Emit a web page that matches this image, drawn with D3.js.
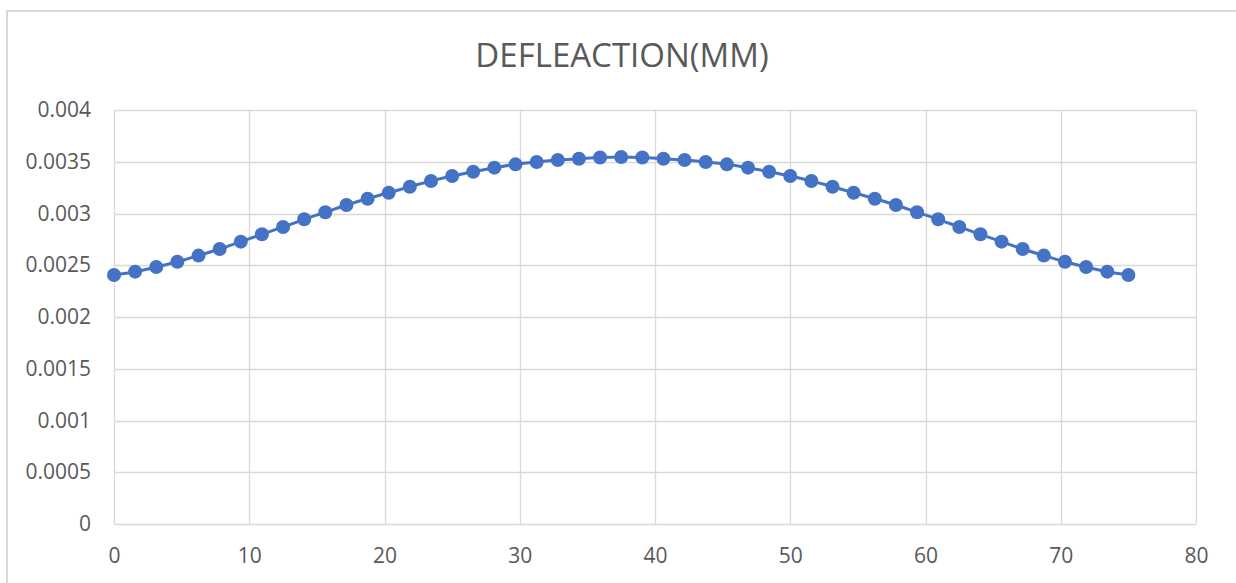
<!DOCTYPE html>
<html>
<head>
<meta charset="utf-8">
<script src="https://cdn.jsdelivr.net/npm/d3@7"></script>
<style>
  body { margin: 0; background: #fff; }
  text { font-family: "Open Sans", sans-serif; fill: #595959; }
</style>
</head>
<body>
<div id="chart-area"></div>
<script>
// DATA
var title = "DEFLEACTION(MM)";
var xValues = [0, 1.5625, 3.125, 4.6875, 6.25, 7.8125, 9.375, 10.9375, 12.5, 14.0625,
    15.625, 17.1875, 18.75, 20.3125, 21.875, 23.4375, 25, 26.5625, 28.125, 29.6875,
    31.25, 32.8125, 34.375, 35.9375, 37.5, 39.0625, 40.625, 42.1875, 43.75, 45.3125,
    46.875, 48.4375, 50, 51.5625, 53.125, 54.6875, 56.25, 57.8125, 59.375, 60.9375,
    62.5, 64.0625, 65.625, 67.1875, 68.75, 70.3125, 71.875, 73.4375, 75];
var deflection = [0.002406, 0.002438, 0.002483, 0.002534, 0.002593, 0.002657, 0.002728,
    0.002799, 0.002870, 0.002944, 0.003012, 0.003082, 0.003143, 0.003201, 0.003259,
    0.003314, 0.003362, 0.003404, 0.003443, 0.003475, 0.003498, 0.003517, 0.003529,
    0.003541, 0.003546, 0.003541, 0.003529, 0.003517, 0.003498, 0.003475, 0.003443,
    0.003404, 0.003362, 0.003314, 0.003259, 0.003201, 0.003143, 0.003082, 0.003012,
    0.002944, 0.002870, 0.002799, 0.002728, 0.002657, 0.002593, 0.002534, 0.002483,
    0.002438, 0.002406];
var xTicks = [0, 10, 20, 30, 40, 50, 60, 70, 80];
var yTicks = [0, 0.0005, 0.001, 0.0015, 0.002, 0.0025, 0.003, 0.0035, 0.004];

// GRAPHIC'S SIZE
var W = 1236, H = 583;
var margin = { top: 110, right: 40, bottom: 59, left: 114 };
var width = W - margin.left - margin.right;
var height = H - margin.top - margin.bottom;

var svg = d3.select("#chart-area")
    .append("svg")
    .attr("width", W)
    .attr("height", H);

// chart frame
svg.append("rect")
    .attr("x", 7).attr("y", 11)
    .attr("width", W + 20).attr("height", H + 20)
    .attr("fill", "none")
    .attr("stroke", "#d9d9d9")
    .attr("stroke-width", 2);

// title
svg.append("text")
    .attr("x", 622)
    .attr("y", 67)
    .attr("text-anchor", "middle")
    .attr("font-size", "33px")
    .text(title);

var g = svg.append("g")
    .attr("transform", "translate(" + margin.left + "," + margin.top + ")");

var x = d3.scaleLinear().domain([0, 80]).range([0, width]);
var y = d3.scaleLinear().domain([0, 0.004]).range([height, 0]);

// gridlines
g.append("g").selectAll("line.h")
    .data(yTicks).enter().append("line")
    .attr("x1", 0).attr("x2", width)
    .attr("y1", d => Math.round(y(d)) + 0.5).attr("y2", d => Math.round(y(d)) + 0.5)
    .attr("stroke", "#d9d9d9").attr("stroke-width", 1.3);

g.append("g").selectAll("line.v")
    .data(xTicks).enter().append("line")
    .attr("y1", 0).attr("y2", height)
    .attr("x1", d => Math.round(x(d)) + 0.5).attr("x2", d => Math.round(x(d)) + 0.5)
    .attr("stroke", "#d9d9d9").attr("stroke-width", 1.3);

// axes (labels only)
var xAxis = g.append("g")
    .attr("transform", "translate(0," + height + ")")
    .call(d3.axisBottom(x).tickValues(xTicks).tickSize(0).tickPadding(24).tickFormat(d3.format("d")));
var yAxis = g.append("g")
    .call(d3.axisLeft(y).tickValues(yTicks).tickSize(0).tickPadding(23).tickFormat(d => d === 0 ? "0" : String(d)));

[xAxis, yAxis].forEach(a => {
    a.select(".domain").remove();
    a.selectAll("text").attr("font-size", "21px").attr("font-family", "'Open Sans', sans-serif").attr("fill", "#595959");
});

// line + markers
var data = xValues.map((d, i) => ({ x: d, y: deflection[i] }));

var line = d3.line()
    .x(d => x(d.x))
    .y(d => y(d.y))
    .curve(d3.curveMonotoneX);

g.append("path")
    .datum(data)
    .attr("d", line)
    .attr("fill", "none")
    .attr("stroke", "#4472C4")
    .attr("stroke-width", 3);

g.selectAll("circle")
    .data(data).enter().append("circle")
    .attr("cx", d => x(d.x))
    .attr("cy", d => y(d.y))
    .attr("r", 7)
    .attr("fill", "#4472C4");
</script>
</body>
</html>
